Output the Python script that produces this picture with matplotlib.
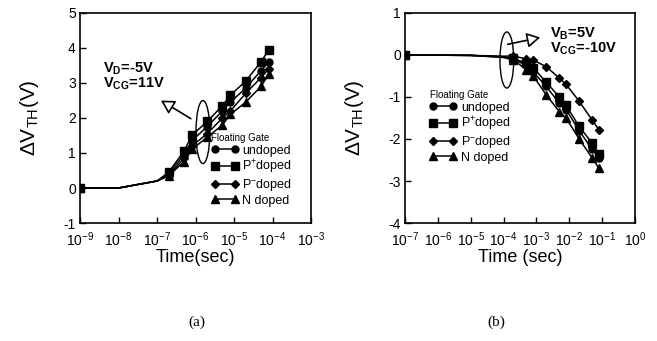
import numpy as np
import matplotlib
matplotlib.use('Agg')
import matplotlib.pyplot as plt
from matplotlib.patches import Ellipse

plt.rcParams['font.family'] = ['Liberation Sans', 'DejaVu Sans']
plt.rcParams['mathtext.fontset'] = 'custom'
plt.rcParams['mathtext.rm'] = 'Liberation Sans'
plt.rcParams['mathtext.it'] = 'Liberation Sans:italic'
plt.rcParams['mathtext.bf'] = 'Liberation Sans:bold'
plt.rcParams['axes.unicode_minus'] = False

# (a) program transient, V_D=-5V, V_CG=11V
time_a = [1e-9, 1e-8, 1e-7, 2e-7, 5e-7, 8e-7, 2e-6, 5e-6, 8e-6, 2e-5, 5e-5, 8e-5]
a_undoped = [0, 0, 0.2, 0.40, 0.95, 1.35, 1.75, 2.20, 2.45, 2.85, 3.35, 3.60]
a_pplus = [0, 0, 0.2, 0.45, 1.05, 1.50, 1.90, 2.35, 2.65, 3.05, 3.60, 3.95]
a_pminus = [0, 0, 0.2, 0.35, 0.85, 1.20, 1.55, 2.00, 2.20, 2.70, 3.15, 3.40]
a_ndoped = [0, 0, 0.2, 0.35, 0.75, 1.10, 1.45, 1.80, 2.10, 2.45, 2.90, 3.25]

# (b) erase transient, V_B=5V, V_CG=-10V
time_b = [1e-7, 1e-5, 1e-4, 2e-4, 5e-4, 8e-4, 2e-3, 5e-3, 8e-3, 2e-2, 5e-2, 8e-2]
b_undoped = [0, -0.01, -0.05, -0.10, -0.25, -0.40, -0.75, -1.15, -1.30, -1.80, -2.25, -2.45]
b_pplus = [0, -0.01, -0.04, -0.08, -0.20, -0.30, -0.65, -1.00, -1.20, -1.70, -2.10, -2.35]
b_pminus = [0, -0.01, -0.03, -0.02, -0.10, -0.12, -0.28, -0.55, -0.70, -1.10, -1.55, -1.78]
b_ndoped = [0, -0.01, -0.06, -0.12, -0.35, -0.50, -0.95, -1.35, -1.50, -2.00, -2.45, -2.70]

labels = ['undoped', 'P$^{+}$doped', 'P$^{-}$doped', 'N doped']
markers = ['o', 's', 'D', '^']
msizes = [5, 5.5, 4.2, 5.5]

# first point and measured points carry markers, the rest is the curve only
shown = [0] + list(range(3, 12))

fig = plt.figure(figsize=(6.57, 3.41), dpi=100)
ax1 = fig.add_axes([0.1218, 0.346, 0.3516, 0.616])
ax2 = fig.add_axes([0.6164, 0.346, 0.350, 0.616])


def style(ax, xmin, xmax, ymin, ymax, xlabel):
    ax.set_xscale('log')
    ax.set_xlim(xmin, xmax)
    ax.set_ylim(ymin, ymax)
    decs = np.arange(int(np.log10(xmin)), int(np.log10(xmax)) + 1)
    ax.set_xticks(10.0 ** decs)
    ax.set_xticklabels(['$10^{%d}$' % d for d in decs])
    ax.xaxis.set_minor_locator(matplotlib.ticker.NullLocator())
    ax.set_yticks(np.arange(ymin, ymax + 1))
    ax.set_yticklabels(['%d' % v for v in np.arange(ymin, ymax + 1)])
    ax.tick_params(direction='in', length=4, width=1, labelsize=10,
                   top=False, right=False)
    ax.tick_params(axis='x', pad=5)
    ax.tick_params(axis='y', pad=3)
    for s in ax.spines.values():
        s.set_linewidth(1.2)
    ax.set_xlabel(xlabel, fontsize=13, labelpad=0)
    ax.set_ylabel(r'$\Delta$V$_{\mathrm{TH}}$(V)', fontsize=15, labelpad=16)


for ax, t, series in [(ax1, time_a, [a_undoped, a_pplus, a_pminus, a_ndoped]),
                      (ax2, time_b, [b_undoped, b_pplus, b_pminus, b_ndoped])]:
    for y, m, ms, lab in zip(series, markers, msizes, labels):
        ax.plot(t, y, color='black', lw=1.1, marker=m, ms=ms,
                markevery=shown, label=lab)

style(ax1, 1e-9, 1e-3, -1, 5, 'Time(sec)')
style(ax2, 1e-7, 1e0, -4, 1, 'Time (sec)')

# legends
for ax, anchor in [(ax1, (0.545, 0.45)), (ax2, (0.085, 0.655))]:
    ax.legend(loc='upper left', bbox_to_anchor=anchor, frameon=False,
              numpoints=2, handlelength=2.2, handletextpad=0.3,
              labelspacing=0.1, borderaxespad=0, fontsize=9,
              title='Floating Gate', title_fontsize=7,
              alignment='left')

# annotations
ax1.text(0.10, 0.714, r'V$_{\mathbf{D}}$=-5V', transform=ax1.transAxes,
         fontsize=10.5, fontweight='bold')
ax1.text(0.10, 0.643, r'V$_{\mathbf{CG}}$=11V', transform=ax1.transAxes,
         fontsize=10.5, fontweight='bold')
ax1.add_patch(Ellipse((0.532, 0.433), 0.06, 0.30, transform=ax1.transAxes,
                      fill=False, lw=1, ec='black'))
ax1.annotate('', xy=(0.34, 0.59), xytext=(0.49, 0.49),
             xycoords='axes fraction', textcoords='axes fraction',
             arrowprops=dict(arrowstyle='-|>,head_length=0.8,head_width=0.45',
                             lw=1.2, fc='white', ec='black'))

ax2.text(0.63, 0.881, r'V$_{\mathbf{B}}$=5V', transform=ax2.transAxes,
         fontsize=10.5, fontweight='bold')
ax2.text(0.63, 0.81, r'V$_{\mathbf{CG}}$=-10V', transform=ax2.transAxes,
         fontsize=10.5, fontweight='bold')
ax2.add_patch(Ellipse((0.443, 0.776), 0.06, 0.267, transform=ax2.transAxes,
                      fill=False, lw=1, ec='black'))
ax2.annotate('', xy=(0.60, 0.886), xytext=(0.435, 0.848),
             xycoords='axes fraction', textcoords='axes fraction',
             arrowprops=dict(arrowstyle='-|>,head_length=0.8,head_width=0.45',
                             lw=1.2, fc='white', ec='black'))

fig.text(197 / 657, 1 - 322 / 341, '(a)', fontsize=11,
         family='Liberation Serif', ha='center', va='center')
fig.text(496 / 657, 1 - 322 / 341, '(b)', fontsize=11,
         family='Liberation Serif', ha='center', va='center')

fig.savefig('out.png', dpi=100)
